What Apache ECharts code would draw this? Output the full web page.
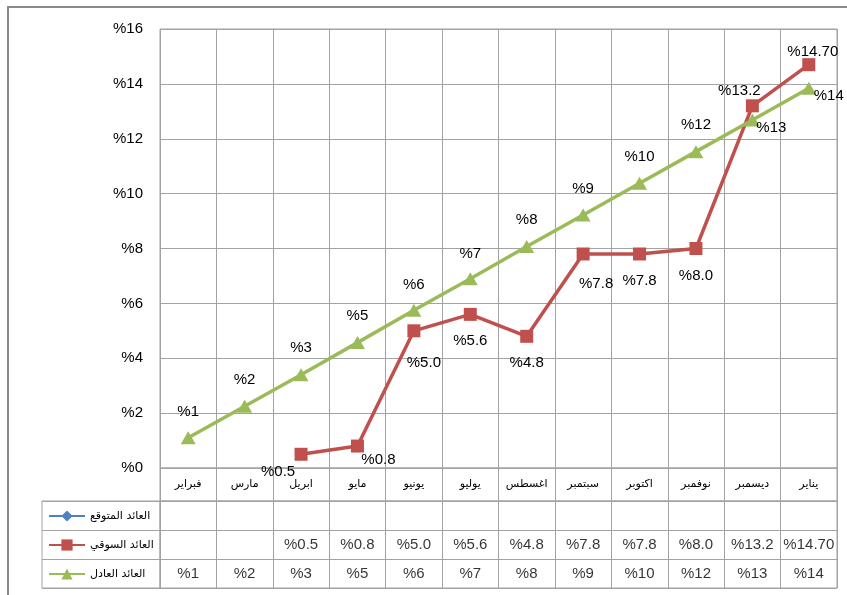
<!DOCTYPE html>
<html><head><meta charset="utf-8">
<script src="https://cdn.jsdelivr.net/npm/echarts@6/dist/echarts.min.js"></script>
<style>html,body{margin:0;padding:0;background:#fff}#c{width:847px;height:595px}</style>
</head><body><div id="c"></div>
<script>
// ---- data ----
const months = ['فبراير','مارس','ابريل','مايو','يونيو','يوليو','اغسطس','سبتمبر','اكتوبر','نوفمبر','ديسمبر','يناير'];
const seriesNames = ['العائد المتوقع','العائد السوقي','العائد العادل'];
const expectedValues = [null,null,null,null,null,null,null,null,null,null,null,null];
const marketValues = [null,null,0.5,0.8,5.0,5.6,4.8,7.8,7.8,8.0,13.2,14.7];
const marketText = ['','','%0.5','%0.8','%5.0','%5.6','%4.8','%7.8','%7.8','%8.0','%13.2','%14.70'];
const fairValues = [1.1,2.25,3.4,4.57,5.75,6.9,8.07,9.22,10.38,11.53,12.68,13.84];
const fairText = ['%1','%2','%3','%5','%6','%7','%8','%9','%10','%12','%13','%14'];
const yTicks = [0,2,4,6,8,10,12,14,16];

// ---- styles ----
const marketOffsets = [[0,0],[0,0],[-23,18],[21,14],[10,32],[0,27],[0,27],[13,30],[0,27],[0,27],[-13,-15],[4,-13]];
const fairOffsets = [[0,-26],[0,-26],[0,-27],[0,-27],[0,-25],[0,-25],[0,-27],[0,-26],[0,-26],[0,-27],[19,8],[20,8]];
const gridColor = '#a3a3a3';
const numFont = 'Liberation Sans';
const arFont = 'DejaVu Sans';

const chart = echarts.init(document.getElementById('c'), null, {renderer: 'canvas'});

const marketData = marketValues.map((v, i) => v == null ? null : ({
  value: v,
  label: {offset: marketOffsets[i], formatter: marketText[i]}
}));
const fairData = fairValues.map((v, i) => ({
  value: v,
  label: {offset: fairOffsets[i], formatter: fairText[i]}
}));

const tableData = [];
marketText.forEach((t, i) => { if (t) tableData.push([i, 1, t]); });
fairText.forEach((t, i) => { if (t) tableData.push([i, 2, t]); });

const catSplit = {show: true, interval: 0, lineStyle: {color: gridColor, width: 1}};

const option = {
  animation: false,
  backgroundColor: '#fff',
  graphic: [{
    type: 'rect', silent: true, z: -10,
    shape: {x: 8, y: 7, width: 900, height: 700},
    style: {fill: 'none', stroke: '#8a8a8a', lineWidth: 2}
  }],
  legend: {
    data: seriesNames,
    orient: 'vertical',
    left: 48, top: 509, padding: 0,
    itemWidth: 36, itemHeight: 14, itemGap: 15,
    selectedMode: false,
    textStyle: {fontFamily: arFont, fontSize: 11, color: '#000', lineHeight: 14}
  },
  grid: [
    {left: 160, top: 29, width: 677, height: 439, show: true, borderColor: gridColor, borderWidth: 1},
    {left: 160, top: 468, width: 677, height: 33, show: true, borderColor: gridColor, borderWidth: 1},
    {left: 160, top: 501, width: 677, height: 87, show: true, borderColor: gridColor, borderWidth: 1},
    {left: 42, top: 501, width: 118, height: 87, show: true, borderColor: gridColor, borderWidth: 1}
  ],
  xAxis: [
    {gridIndex: 0, type: 'category', data: months, boundaryGap: true,
     axisLine: {show: false}, axisTick: {show: false},
     axisLabel: {interval: 0, margin: 11, fontFamily: arFont, fontSize: 11, color: '#000'},
     splitLine: catSplit},
    {gridIndex: 1, type: 'category', data: months, boundaryGap: true,
     axisLine: {show: false}, axisTick: {show: false}, axisLabel: {show: false}, splitLine: catSplit},
    {gridIndex: 2, type: 'category', data: months, boundaryGap: true,
     axisLine: {show: false}, axisTick: {show: false}, axisLabel: {show: false}, splitLine: catSplit},
    {gridIndex: 3, type: 'value', min: 0, max: 1, show: false}
  ],
  yAxis: [
    {gridIndex: 0, type: 'value', min: yTicks[0], max: yTicks[yTicks.length - 1], interval: 2,
     axisLine: {show: false}, axisTick: {show: false},
     axisLabel: {margin: 17, fontFamily: numFont, fontSize: 15, color: '#000',
       formatter: v => '%' + v},
     splitLine: {show: true, lineStyle: {color: gridColor, width: 1}}},
    {gridIndex: 1, type: 'value', min: 0, max: 1, show: false},
    {gridIndex: 2, type: 'category', data: [0, 1, 2], inverse: true, boundaryGap: true,
     axisLine: {show: false}, axisTick: {show: false}, axisLabel: {show: false}, splitLine: catSplit},
    {gridIndex: 3, type: 'category', data: [0, 1, 2], inverse: true, boundaryGap: true,
     axisLine: {show: false}, axisTick: {show: false}, axisLabel: {show: false}, splitLine: catSplit}
  ],
  series: [
    {name: seriesNames[0], type: 'line', xAxisIndex: 0, yAxisIndex: 0,
     data: expectedValues, symbol: 'diamond', symbolSize: 10,
     itemStyle: {color: '#4F81BD'}, lineStyle: {color: '#4F81BD', width: 3}},
    {name: seriesNames[1], type: 'line', xAxisIndex: 0, yAxisIndex: 0,
     data: marketData, symbol: 'rect', symbolSize: 13, connectNulls: false,
     itemStyle: {color: '#C0504D'}, lineStyle: {color: '#C0504D', width: 3.5},
     label: {show: true, position: 'inside', fontFamily: numFont, fontSize: 15, color: '#000'}},
    {name: seriesNames[2], type: 'line', xAxisIndex: 0, yAxisIndex: 0,
     data: fairData, symbol: 'triangle', symbolSize: [15, 13],
     itemStyle: {color: '#9BBB59'}, lineStyle: {color: '#9BBB59', width: 3.5},
     label: {show: true, position: 'inside', fontFamily: numFont, fontSize: 15, color: '#000'}},
    {type: 'scatter', xAxisIndex: 2, yAxisIndex: 2, data: tableData,
     symbolSize: 1, itemStyle: {color: 'rgba(0,0,0,0)'}, silent: true,
     label: {show: true, position: 'inside', fontFamily: numFont, fontSize: 15, color: '#000',
       formatter: p => p.value[2]}}
  ]
};
chart.setOption(option);
</script></body></html>
